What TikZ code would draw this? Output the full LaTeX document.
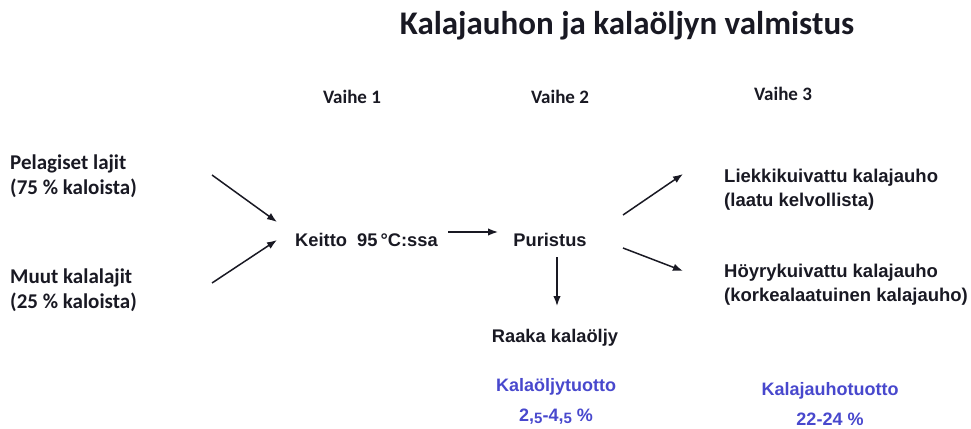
\documentclass[tikz,border=0pt]{standalone}
\usepackage{fontspec}
\setmainfont{Liberation Sans}
\newfontfamily\calib{Carlito}
\usetikzlibrary{arrows.meta}
\definecolor{txt}{RGB}{25,25,35}
\definecolor{bluetxt}{RGB}{72,72,205}
\newcommand{\lowfive}{\raisebox{-0.12em}{\fontsize{15}{15}\selectfont 5}}
\tikzset{
  ttl/.style={font=\calib\bfseries\fontsize{33}{38}\selectfont, text=txt, inner sep=0pt},
  vaihe/.style={font=\calib\bfseries\fontsize{19}{22}\selectfont, text=txt, inner sep=0pt},
  srcbox/.style={font=\calib\bfseries\fontsize{21}{25}\selectfont, text=txt, align=left, inner sep=0pt, anchor=west},
  procbox/.style={font=\bfseries\fontsize{18.3}{24}\selectfont, text=txt, inner sep=0pt},
  outbox/.style={font=\bfseries\fontsize{18.5}{24}\selectfont, text=txt, align=left, inner sep=0pt, anchor=west},
  yieldbox/.style={font=\bfseries\fontsize{18}{30}\selectfont, text=bluetxt, align=center, inner sep=0pt},
  arr/.style={-{Latex[length=10pt,width=7.5pt]}, line width=1.5pt, draw=txt}
}
\begin{document}
\begin{tikzpicture}[x=1pt,y=-1pt]
\useasboundingbox (0,0) rectangle (971,428);
\node[ttl] (title) at (627,26) {Kalajauhon ja kalaöljyn valmistus};
\node[vaihe] (v1) at (352,97) {Vaihe 1};
\node[vaihe] (v2) at (560,97) {Vaihe 2};
\node[vaihe] (v3) at (783,94) {Vaihe 3};
\node[srcbox] (pel) at (10,176) {Pelagiset lajit\\(75 \% kaloista)};
\node[srcbox] (muut) at (10,290) {Muut kalalajit\\(25 \% kaloista)};
\node[procbox, anchor=west] (keit) at (295,240) {Keitto\ \ 95\,°C:ssa};
\node[procbox] (pur) at (550,240) {Puristus};
\node[procbox] (raaka) at (555,338) {Raaka kalaöljy};
\node[outbox] (liek) at (724,190) {Liekkikuivattu kalajauho\\(laatu kelvollista)};
\node[outbox] (hoyr) at (724,285) {Höyrykuivattu kalajauho\\(korkealaatuinen kalajauho)};
\node[yieldbox] (oily) at (556,401) {Kalaöljytuotto\\2,\lowfive-4,\lowfive~\%};
\node[yieldbox] (mealy) at (830,404) {Kalajauhotuotto\\22-24~\%};
\coordinate (a1s) at (212,175);
\coordinate (a1e) at (277,222);
\coordinate (a2s) at (212,283);
\coordinate (a2e) at (277,240);
\coordinate (a3s) at (448,232);
\coordinate (a3e) at (498,232);
\coordinate (a4s) at (557,257);
\coordinate (a4e) at (557,306);
\coordinate (a5s) at (623,215);
\coordinate (a5e) at (683,174);
\coordinate (a6s) at (623,248);
\coordinate (a6e) at (683,271);
\draw[arr] (a1s) -- (a1e);
\draw[arr] (a2s) -- (a2e);
\draw[arr] (a3s) -- (a3e);
\draw[arr] (a4s) -- (a4e);
\draw[arr] (a5s) -- (a5e);
\draw[arr] (a6s) -- (a6e);
\end{tikzpicture}
\end{document}
